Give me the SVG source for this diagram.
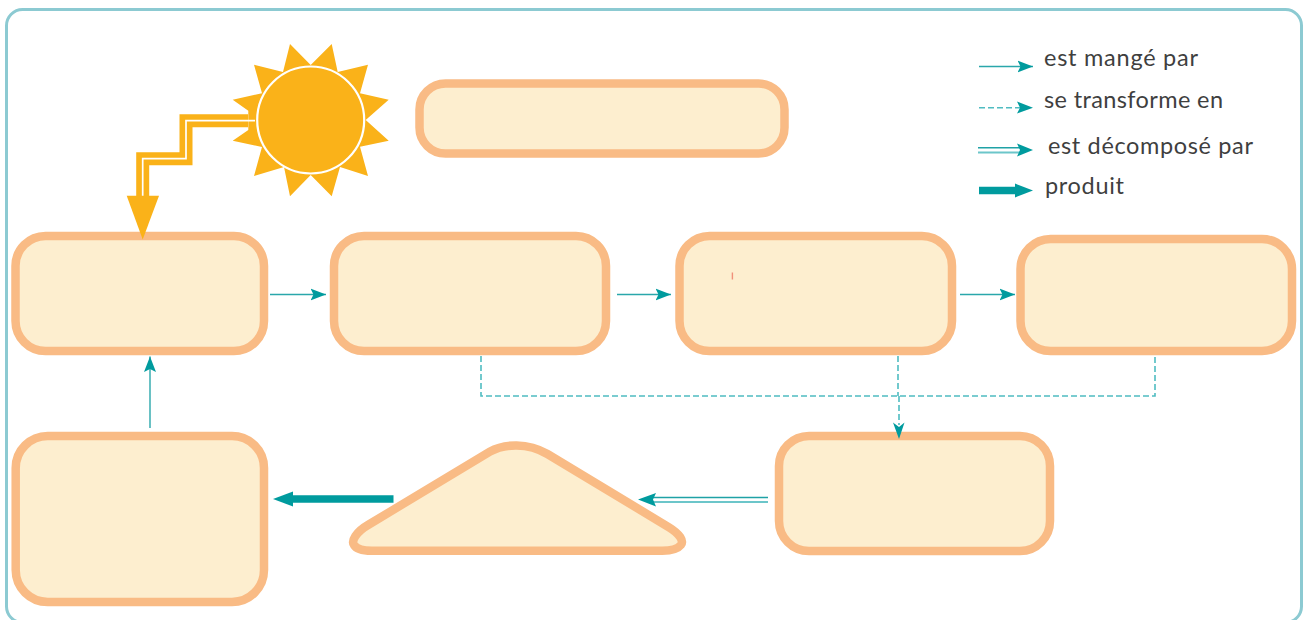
<svg xmlns="http://www.w3.org/2000/svg" width="1306" height="620" viewBox="0 0 1306 620">
<style>
.box{fill:#fdeecf;stroke:#f9bb85;stroke-width:8.500}
.eat{fill:none;stroke:#2aa7ab;stroke-width:1.4;marker-end:url(#head)}
.dash{fill:none;stroke:#4fbcc1;stroke-width:1.600;stroke-dasharray:6 3}
.dbl1{fill:none;stroke:#1fa2a6;stroke-width:1.500}
.dbl2{fill:none;stroke:#6cc6ca;stroke-width:1.800}
.prod{fill:none;stroke:#009b9e;stroke-width:7.500}
.tip{fill:#009b9e}
text{font-family:"Lato","Open Sans",sans-serif;font-size:23.500px;fill:#3f3f3f}
</style>
<defs>
<marker id="head" markerUnits="userSpaceOnUse" markerWidth="16" markerHeight="14" refX="15.500" refY="7" orient="auto"><path d="M0 1 L15.500 7 L0 13 L3 7 Z" fill="#009b9e"/></marker>
</defs>
<rect id="frame" x="6.500" y="9.500" width="1295" height="613" rx="16" fill="#fff" stroke="#8ccad2" stroke-width="3"/>
<g id="sun">
<polygon fill="#fab219" points="290,44 310.700,65 331.700,44 337.700,72 368,64.700 360,93.300 388.700,99.700 365.700,120 388.700,140.700 360,146.700 368,176 340,167 331.700,196.300 310.700,175 290,196.300 284,167 254,176 262,147 232.700,140.700 248.300,130 248.300,110.700 232.700,99.700 262,93.300 254,64.700 283,72"/>
<circle cx="310.700" cy="120" r="53.500" fill="#fab219" stroke="#fff" stroke-width="2.200"/>
</g>
<g id="rayon">
<path d="M248 120.700H186V158.700H142.700V197" fill="none" stroke="#fab219" stroke-width="13" stroke-linejoin="miter"/>
<path d="M255 120.700H186V158.700H142.700V197" fill="none" stroke="#fff" stroke-width="1.700"/>
</g>
<g id="box-top"><rect class="box" x="419.500" y="83.500" width="365" height="70" rx="26"/></g>
<g id="box-1"><rect class="box" x="15.500" y="236" width="248.500" height="115" rx="30"/></g>
<g id="box-2"><rect class="box" x="334" y="236" width="272" height="115" rx="30"/></g>
<g id="box-3"><rect class="box" x="679.500" y="236" width="272.500" height="115" rx="30"/><rect x="731.700" y="272.500" width="1.400" height="7" fill="#f0907a"/></g>
<g id="box-4"><rect class="box" x="1020.500" y="239" width="271.500" height="112" rx="30"/></g>
<g id="box-5"><rect class="box" x="779" y="436" width="271" height="115" rx="30"/></g>
<g id="box-6"><rect class="box" x="15.700" y="436" width="248.300" height="166" rx="32"/></g>
<g id="triangle"><path class="box" d="M368 525L489.900 451.700C504 443.500 528 442.500 547.400 454L669 527.300C680 534 684 541 680.900 545C677 550 670 550.700 662.300 550.700H371.600C364 550.700 357 550 354 545C351 541 356 532 368 525Z"/></g>
<g id="connectors">
<path class="eat" d="M270 294.500H326"/>
<path class="eat" d="M617 294.500H671"/>
<path class="eat" d="M960 294.500H1015"/>
<path class="eat" d="M150 428V356.500"/>
<path class="dash" d="M481 356V396H1155V355"/>
<path class="dash" d="M898 356V396M899 396V425"/>
<path class="tip" d="M893 422.500L899 439L904.500 422.500L899 427Z"/>
<path class="prod" d="M393.500 499H290"/>
<path class="tip" d="M273 499L293 491.500V506.500Z"/>
<path class="dbl1" d="M768 497.500H650"/>
<path class="dbl2" d="M768 502H650"/>
<path class="tip" d="M638 499.500L656 493L653 499.500L656 506.500Z"/>
<path d="M142.700 239.500L126.700 195.700H159Z" fill="#fab219"/>
</g>
<g id="legend">
<path class="eat" d="M979 66.500H1033"/>
<path class="dash" d="M979 107.700H1020"/>
<path class="tip" d="M1017 101.500L1033 107.700L1017 113.500L1020 107.700Z"/>
<path class="dbl1" d="M978 147.700H1020"/>
<path class="dbl2" d="M978 152.500H1020"/>
<path class="tip" d="M1017 143.500L1033 150L1017 156.500L1020 150Z"/>
<path class="prod" d="M979 190.500H1018"/>
<path class="tip" d="M1015 183.500L1033 190.500L1015 197.500Z"/>
<text x="1044" y="66" textLength="154">est mangé par</text>
<text x="1044" y="108" textLength="179">se transforme en</text>
<text x="1048" y="154" textLength="205">est décomposé par</text>
<text x="1045" y="194" textLength="79">produit</text>
</g>
</svg>
